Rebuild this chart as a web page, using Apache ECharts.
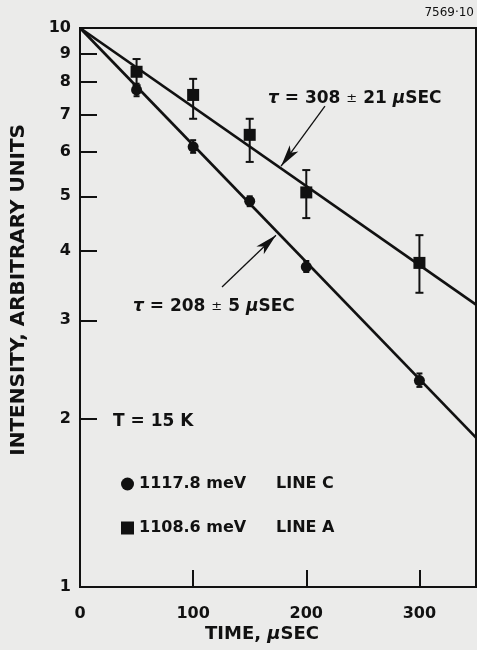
<!DOCTYPE html>
<html>
<head>
<meta charset="utf-8">
<script src="https://cdn.jsdelivr.net/npm/echarts@6/dist/echarts.min.js"></script>
<style>
  html, body { margin: 0; padding: 0; background: #ebebea; }
  #chart { width: 477px; height: 650px; }
</style>
</head>
<body>
<div id="chart"></div>
<script>
// tick values
var xLabels = [0, 100, 200, 300];
var xTickMarks = [100, 200, 300];
var yLabels = [1, 2, 3, 4, 5, 6, 7, 8, 9, 10];
var yTickMarks = [2, 3, 4, 5, 6, 7, 8, 9];

// measured points (time in usec)
var times = [50, 100, 150, 200, 300];
var lineC = [7.75, 6.13, 4.9, 3.74, 2.34];
var lineCLo = [7.55, 5.98, 4.8, 3.66, 2.28];
var lineCHi = [7.95, 6.3, 5.0, 3.83, 2.41];
var lineA = [8.35, 7.59, 6.44, 5.08, 3.8];
var lineALo = [7.9, 6.88, 5.76, 4.57, 3.36];
var lineAHi = [8.8, 8.11, 6.88, 5.57, 4.26];

// fitted decay lines, end points
var fitC = [[0, 10], [350, 1.85]];
var fitA = [[0, 10], [350, 3.2]];

// arrows for the tau labels: [from, to]
var arrowA = [[216.5, 7.25], [177.7, 5.66]];
var arrowC = [[125.5, 3.44], [173.2, 4.26]];

var legendNames = ['LINE C', 'LINE A'];
var legendEnergy = ['1117.8 meV', '1108.6 meV'];

var FONT = 'DejaVu Sans';
var INK = '#111';

function pts(xs, ys) {
    var out = [];
    for (var i = 0; i < xs.length; i++) out.push([xs[i], ys[i]]);
    return out;
}
function bars(xs, lo, hi) {
    var out = [];
    for (var i = 0; i < xs.length; i++) out.push([xs[i], lo[i], hi[i]]);
    return out;
}
function errRender(capW) {
    return function(params, api) {
        var x = api.value(0);
        var lo = api.coord([x, api.value(1)]);
        var hi = api.coord([x, api.value(2)]);
        var st = { stroke: INK, lineWidth: 2 };
        return {
            type: 'group',
            children: [
                { type: 'line', shape: { x1: lo[0], y1: lo[1], x2: hi[0], y2: hi[1] }, style: st },
                { type: 'line', shape: { x1: lo[0] - capW, y1: lo[1], x2: lo[0] + capW, y2: lo[1] }, style: st },
                { type: 'line', shape: { x1: hi[0] - capW, y1: hi[1], x2: hi[0] + capW, y2: hi[1] }, style: st }
            ]
        };
    };
}
function arrowLine(a) {
    return {
        silent: true,
        animation: false,
        symbol: ['none', 'arrow'],
        symbolSize: [8, 22],
        label: { show: false },
        lineStyle: { color: INK, width: 1.3, type: 'solid' },
        data: [[{ coord: a[0] }, { coord: a[1] }]]
    };
}

var tauRich = {
    i: { fontFamily: FONT, fontStyle: 'italic', fontWeight: 'bold', fontSize: 17, fill: INK },
    pm: { fontFamily: FONT, fontWeight: 'normal', fontSize: 13, fill: INK }
};

var myChart = echarts.init(document.getElementById('chart'));
var option = {
    backgroundColor: '#ebebea',
    animation: false,
    grid: {
        left: 80, right: 1, top: 28, bottom: 63,
        show: true, borderColor: INK, borderWidth: 2, backgroundColor: 'transparent'
    },
    xAxis: {
        type: 'value', min: 0, max: 350, interval: 100,
        axisLine: { lineStyle: { color: INK, width: 2 } },
        axisTick: { show: true, inside: true, length: 17, lineStyle: { color: INK, width: 2 }, customValues: xTickMarks },
        axisLabel: { customValues: xLabels, margin: 19, color: INK, fontFamily: FONT, fontWeight: 'bold', fontSize: 16 },
        splitLine: { show: false }
    },
    yAxis: {
        type: 'log', logBase: 10, min: 1, max: 10,
        axisLine: { lineStyle: { color: INK, width: 2 } },
        axisTick: { show: true, inside: true, length: 17, lineStyle: { color: INK, width: 2 }, customValues: yTickMarks },
        axisLabel: { customValues: yLabels, margin: 9, color: INK, fontFamily: FONT, fontWeight: 'bold', fontSize: 16 },
        splitLine: { show: false },
        minorTick: { show: false }
    },
    legend: {
        orient: 'vertical', left: 116, top: 471, itemGap: 28,
        itemWidth: 13, itemHeight: 13,
        selectedMode: false,
        data: [{ name: legendNames[0], icon: 'circle' }, { name: legendNames[1], icon: 'rect' }],
        formatter: function(name) {
            var i = legendNames.indexOf(name);
            return '{a|' + legendEnergy[i] + '}{b|' + name + '}';
        },
        textStyle: {
            color: INK, fontFamily: FONT, fontWeight: 'bold', fontSize: 16,
            rich: { a: { width: 137, fontFamily: FONT, fontWeight: 'bold', fontSize: 16, color: INK },
                    b: { fontFamily: FONT, fontWeight: 'bold', fontSize: 16, color: INK } }
        }
    },
    graphic: [
        { type: 'text', right: 3, top: 7, style: { text: '7569\u00b710', font: '12px "DejaVu Sans"', fill: INK } },
        { type: 'text', left: 113, top: 413, style: { text: 'T = 15 K', font: 'bold 17px "DejaVu Sans"', fill: INK } },
        { type: 'text', left: 268, top: 90, style: { text: '{i|\u03c4} = 308 {pm|\u00b1} 21 {i|\u03bc}SEC', font: 'bold 17px "DejaVu Sans"', fill: INK, rich: tauRich } },
        { type: 'text', left: 133, top: 298, style: { text: '{i|\u03c4} = 208 {pm|\u00b1} 5 {i|\u03bc}SEC', font: 'bold 17px "DejaVu Sans"', fill: INK, rich: tauRich } },
        { type: 'text', left: 205, top: 625, style: { text: 'TIME, {i|\u03bc}SEC', font: 'bold 18px "DejaVu Sans"', fill: INK,
            rich: { i: { fontFamily: FONT, fontStyle: 'italic', fontWeight: 'bold', fontSize: 18, fill: INK } } } },
        { type: 'text', left: 9, top: 124, rotation: Math.PI / 2,
          style: { text: 'INTENSITY, ARBITRARY UNITS', font: 'bold 20px "DejaVu Sans"', fill: INK } }
    ],
    series: [
        { name: 'fitC', type: 'line', data: fitC, showSymbol: false, silent: true,
          lineStyle: { color: INK, width: 2.7 }, markLine: arrowLine(arrowC) },
        { name: 'fitA', type: 'line', data: fitA, showSymbol: false, silent: true,
          lineStyle: { color: INK, width: 2.7 }, markLine: arrowLine(arrowA) },
        { name: 'errC', type: 'custom', data: bars(times, lineCLo, lineCHi), renderItem: errRender(3),
          encode: { x: 0, y: [1, 2] }, silent: true },
        { name: 'errA', type: 'custom', data: bars(times, lineALo, lineAHi), renderItem: errRender(4),
          encode: { x: 0, y: [1, 2] }, silent: true },
        { name: legendNames[0], type: 'scatter', data: pts(times, lineC), symbol: 'circle', symbolSize: 11,
          itemStyle: { color: INK, opacity: 1 } },
        { name: legendNames[1], type: 'scatter', data: pts(times, lineA), symbol: 'rect', symbolSize: 12,
          itemStyle: { color: INK, opacity: 1 } }
    ]
};
myChart.setOption(option);
</script>
</body>
</html>
